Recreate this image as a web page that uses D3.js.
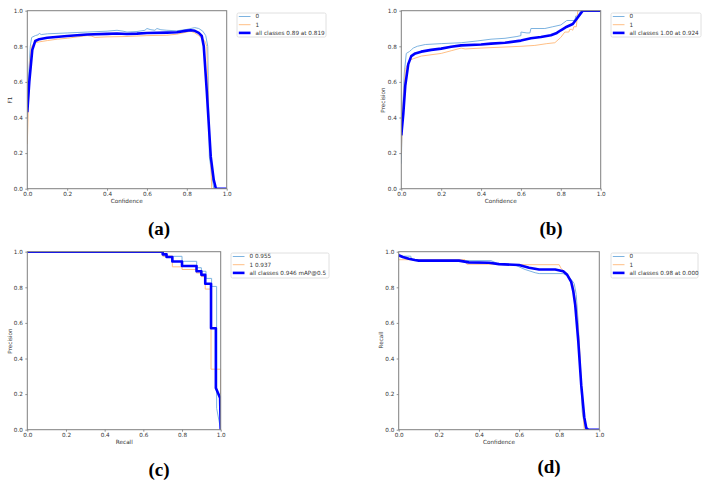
<!DOCTYPE html>
<html><head><meta charset="utf-8">
<script src="https://cdn.jsdelivr.net/npm/d3@7"></script>
<style>body{margin:0;background:#fff}svg{display:block}</style>
</head><body><svg id="c" width="708" height="486"></svg>
<script>
// ---------- data ----------
const tickValues = [0, 0.2, 0.4, 0.6, 0.8, 1.0];
const panelLetters = ["(a)", "(b)", "(c)", "(d)"];
const xLabels = ["Confidence", "Confidence", "Recall", "Confidence"];
const yLabels = ["F1", "Precision", "Precision", "Recall"];
const legendA = ["0", "1", "all classes 0.89 at 0.819"];
const legendB = ["0", "1", "all classes 1.00 at 0.924"];
const legendC = ["0 0.955", "1 0.937", "all classes 0.946 mAP@0.5"];
const legendD = ["0", "1", "all classes 0.98 at 0.000"];

// (a) F1 vs confidence
const f1Class0 = [[0,0.40],[0.005,0.6],[0.015,0.80],[0.022,0.85],[0.04,0.86],[0.055,0.865],[0.06,0.873],[0.07,0.866],[0.1,0.87],[0.2,0.875],[0.3,0.88],[0.4,0.885],[0.45,0.89],[0.48,0.885],[0.5,0.88],[0.55,0.883],[0.59,0.89],[0.6,0.9],[0.62,0.893],[0.64,0.89],[0.65,0.9],[0.67,0.893],[0.7,0.89],[0.75,0.887],[0.8,0.895],[0.84,0.905],[0.86,0.9],[0.88,0.885],[0.895,0.86],[0.905,0.8],[0.913,0.18],[0.935,0],[1,0]];
const f1Class1 = [[0,0.25],[0.005,0.45],[0.012,0.7],[0.02,0.8],[0.04,0.82],[0.06,0.825],[0.1,0.832],[0.15,0.84],[0.2,0.845],[0.25,0.853],[0.3,0.86],[0.32,0.858],[0.34,0.85],[0.4,0.853],[0.5,0.855],[0.6,0.86],[0.7,0.862],[0.75,0.868],[0.8,0.88],[0.82,0.885],[0.84,0.875],[0.86,0.86],[0.875,0.845],[0.89,0.83],[0.9,0.8],[0.91,0.4],[0.925,0],[1,0]];
const f1All = [[0,0.43],[0.01,0.6],[0.025,0.78],[0.04,0.83],[0.06,0.84],[0.1,0.848],[0.2,0.858],[0.3,0.866],[0.4,0.87],[0.45,0.872],[0.5,0.869],[0.55,0.871],[0.6,0.875],[0.7,0.877],[0.75,0.879],[0.8,0.888],[0.82,0.89],[0.84,0.887],[0.86,0.875],[0.875,0.858],[0.885,0.8],[0.9,0.55],[0.92,0.18],[0.935,0.05],[0.946,0],[1,0]];

// (b) Precision vs confidence
const pClass0 = [[0,0.14],[0.005,0.4],[0.015,0.65],[0.025,0.76],[0.04,0.77],[0.05,0.78],[0.06,0.79],[0.08,0.8],[0.12,0.81],[0.2,0.815],[0.3,0.82],[0.38,0.83],[0.45,0.84],[0.52,0.845],[0.58,0.855],[0.6,0.86],[0.6,0.88],[0.63,0.875],[0.645,0.875],[0.65,0.9],[0.72,0.9],[0.76,0.91],[0.8,0.92],[0.83,0.945],[0.87,0.945],[0.875,0.97],[0.885,0.97],[0.9,1],[1,1]];
const pClass1 = [[0,0.2],[0.008,0.45],[0.02,0.67],[0.04,0.72],[0.06,0.73],[0.1,0.745],[0.2,0.76],[0.25,0.775],[0.3,0.79],[0.32,0.785],[0.4,0.79],[0.5,0.795],[0.6,0.8],[0.67,0.805],[0.73,0.815],[0.77,0.82],[0.8,0.85],[0.82,0.88],[0.84,0.88],[0.845,0.895],[0.855,0.895],[0.86,0.89],[0.865,0.91],[0.878,0.91],[0.885,1],[1,1]];
const pAll = [[0,0.3],[0.01,0.42],[0.02,0.58],[0.035,0.7],[0.05,0.745],[0.07,0.76],[0.1,0.77],[0.15,0.78],[0.2,0.787],[0.25,0.797],[0.3,0.805],[0.4,0.81],[0.45,0.815],[0.52,0.82],[0.6,0.832],[0.65,0.845],[0.7,0.852],[0.75,0.862],[0.78,0.875],[0.8,0.89],[0.83,0.91],[0.86,0.925],[0.88,0.955],[0.91,1],[1,1]];

// (c) Precision vs recall
const prClass0 = [[0,1],[0.703,1],[0.703,0.974],[0.80,0.974],[0.80,0.946],[0.876,0.946],[0.876,0.91],[0.90,0.91],[0.90,0.89],[0.924,0.89],[0.924,0.85],[0.953,0.85],[0.953,0.805],[0.979,0.805],[0.979,0.12],[1,0]];
const prClass1 = [[0,1],[0.70,1],[0.70,0.975],[0.75,0.975],[0.75,0.915],[0.80,0.915],[0.80,0.90],[0.875,0.90],[0.875,0.88],[0.90,0.88],[0.90,0.86],[0.92,0.86],[0.92,0.79],[0.95,0.79],[0.95,0.34],[1,0.34],[1,0.2]];
const prAll = [[0,1],[0.70,1],[0.70,0.985],[0.72,0.985],[0.72,0.97],[0.75,0.97],[0.75,0.945],[0.80,0.945],[0.80,0.92],[0.875,0.92],[0.875,0.89],[0.90,0.89],[0.90,0.87],[0.92,0.87],[0.92,0.82],[0.95,0.82],[0.95,0.57],[0.975,0.57],[0.975,0.234],[0.997,0.178],[1,0]];

// (d) Recall vs confidence
const rClass0 = [[0,0.985],[0.005,0.975],[0.06,0.975],[0.065,0.955],[0.08,0.95],[0.46,0.95],[0.5,0.93],[0.58,0.925],[0.63,0.9],[0.68,0.882],[0.7,0.877],[0.82,0.877],[0.84,0.865],[0.86,0.845],[0.875,0.82],[0.885,0.76],[0.895,0.6],[0.905,0.35],[0.915,0.1],[0.93,0],[1,0]];
const rClass1 = [[0,0.955],[0.33,0.955],[0.34,0.93],[0.5,0.93],[0.52,0.927],[0.8,0.927],[0.81,0.905],[0.83,0.885],[0.85,0.86],[0.87,0.81],[0.885,0.7],[0.9,0.5],[0.915,0.15],[0.925,0],[1,0]];
const rAll = [[0,0.98],[0.02,0.97],[0.05,0.96],[0.08,0.953],[0.1,0.95],[0.3,0.95],[0.35,0.94],[0.45,0.938],[0.5,0.93],[0.6,0.925],[0.65,0.91],[0.7,0.9],[0.78,0.9],[0.82,0.89],[0.84,0.87],[0.86,0.83],[0.87,0.78],[0.88,0.7],[0.895,0.5],[0.91,0.25],[0.925,0.07],[0.935,0.01],[0.945,0],[1,0]];

// ---------- layout ----------
const panels = [
  {x0:27.3, x1:226.7, y0:10.7, y1:188.7, series:[f1Class0,f1Class1,f1All], legend:legendA, lg:{x:237,y:13,w:89,h:24}, lbl:{x:159,y:235}, xl:{x:126.7,y:203}, yl:{x:10,y:100}},
  {x0:401.3, x1:600.7, y0:10.7, y1:188.7, series:[pClass0,pClass1,pAll], legend:legendB, lg:{x:611,y:13,w:90,h:24}, lbl:{x:551,y:235}, xl:{x:500.7,y:203}, yl:{x:383.3,y:100}},
  {x0:27.3, x1:220.7, y0:251.7, y1:429.7, series:[prClass0,prClass1,prAll], legend:legendC, lg:{x:231,y:253,w:98,h:25}, lbl:{x:159,y:476}, xl:{x:124.3,y:444}, yl:{x:10,y:341}},
  {x0:398.7, x1:599.3, y0:251.7, y1:429.7, series:[rClass0,rClass1,rAll], legend:legendD, lg:{x:611,y:253,w:87,h:25}, lbl:{x:549,y:473}, xl:{x:499,y:444}, yl:{x:380.7,y:340}}
];
const colors = ["#7db3e0", "#ffbf85", "#0000ff"];
const widths = [1, 1, 2.6];
const FONT = "'DejaVu Sans', sans-serif";
const FS = 5.7;
const svg = d3.select("#c");

panels.forEach((p, i) => {
  const x = d3.scaleLinear().domain([0,1]).range([p.x0, p.x1]);
  const y = d3.scaleLinear().domain([0,1]).range([p.y1, p.y0]);
  const g = svg.append("g");
  const clipId = "clip" + i;
  svg.append("clipPath").attr("id", clipId).append("rect")
    .attr("x", p.x0).attr("y", p.y0).attr("width", p.x1 - p.x0).attr("height", p.y1 - p.y0);

  const line = d3.line().x(d => x(d[0])).y(d => y(d[1]));
  const lg = g.append("g").attr("clip-path", `url(#${clipId})`);
  p.series.forEach((s, k) => {
    lg.append("path").datum(s).attr("d", line).attr("fill", "none")
      .attr("stroke", colors[k]).attr("stroke-width", widths[k])
      .attr("stroke-linejoin", "round");
  });

  // axes
  const xa = g.append("g").attr("transform", `translate(0,${p.y1})`)
    .call(d3.axisBottom(x).tickValues(tickValues).tickFormat(d3.format(".1f")).tickSize(2).tickSizeOuter(0).tickPadding(0.8));
  const ya = g.append("g").attr("transform", `translate(${p.x0},0)`)
    .call(d3.axisLeft(y).tickValues(tickValues).tickFormat(d3.format(".1f")).tickSize(2).tickSizeOuter(0).tickPadding(2.4));
  [xa, ya].forEach(a => {
    a.select(".domain").remove();
    a.selectAll("line").attr("stroke", "#777").attr("stroke-width", 0.8);
    a.selectAll("text").attr("font-family", FONT).attr("font-size", FS).attr("fill", "#333");
  });
  // frame
  g.append("rect").attr("x", p.x0).attr("y", p.y0).attr("width", p.x1 - p.x0).attr("height", p.y1 - p.y0)
    .attr("fill", "none").attr("stroke", "#7f7f7f").attr("stroke-width", 1);

  // axis labels
  g.append("text").attr("x", p.xl.x).attr("y", p.xl.y).attr("text-anchor", "middle")
    .attr("font-family", FONT).attr("font-size", FS).attr("fill", "#333").text(xLabels[i]);
  g.append("text").attr("transform", `translate(${p.yl.x},${p.yl.y}) rotate(-90)`).attr("text-anchor", "middle")
    .attr("dy", "0.35em").attr("font-family", FONT).attr("font-size", FS).attr("fill", "#333").text(yLabels[i]);

  // legend
  const L = g.append("g");
  L.append("rect").attr("x", p.lg.x).attr("y", p.lg.y).attr("width", p.lg.w).attr("height", p.lg.h)
    .attr("rx", 1.5).attr("fill", "#fff").attr("stroke", "#d8d8d8").attr("stroke-width", 0.8);
  p.legend.forEach((t, k) => {
    const cy = p.lg.y + 3.5 + k * 8.2;
    L.append("line").attr("x1", p.lg.x + 1.8).attr("x2", p.lg.x + 13.5).attr("y1", cy).attr("y2", cy)
      .attr("stroke", colors[k]).attr("stroke-width", widths[k]);
    L.append("text").attr("x", p.lg.x + 18.5).attr("y", cy).attr("dy", "0.35em")
      .attr("font-family", FONT).attr("font-size", FS).attr("fill", "#333").text(t);
  });

  // panel letter
  g.append("text").attr("x", p.lbl.x).attr("y", p.lbl.y).attr("text-anchor", "middle")
    .attr("font-family", "'Liberation Serif', serif").attr("font-weight", "bold").attr("font-size", 19)
    .attr("fill", "#000").text(panelLetters[i]);
});
</script></body></html>
